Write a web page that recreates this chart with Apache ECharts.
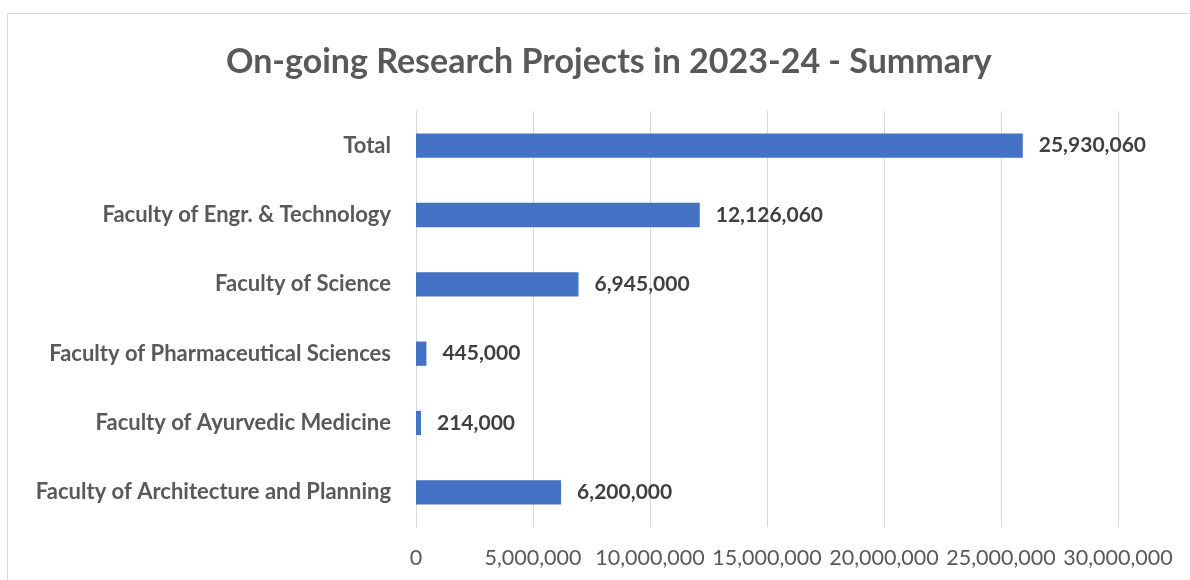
<!DOCTYPE html>
<html>
<head>
<meta charset="utf-8">
<script src="https://cdn.jsdelivr.net/npm/echarts@6/dist/echarts.min.js"></script>
<style>
    html, body { margin: 0; padding: 0; background: #fff; }
    #chart { width: 1190px; height: 580px; }
</style>
</head>
<body>
<div id="chart"></div>
<script>
    // categories top to bottom
    const faculties = [
        'Total',
        'Faculty of Engr. & Technology',
        'Faculty of Science',
        'Faculty of Pharmaceutical Sciences',
        'Faculty of Ayurvedic Medicine',
        'Faculty of Architecture and Planning'
    ]
    const amounts = [25930060, 12126060, 6945000, 445000, 214000, 6200000]
    const axisMin = 0
    const axisMax = 30000000
    const axisStep = 5000000

    const fontName = 'Lato, "Open Sans", sans-serif'
    const fmt = v => Number(v).toLocaleString('en-US')

    const chart = echarts.init(document.getElementById('chart'))
    chart.setOption({
        animation: false,
        title: {
            text: 'On-going Research Projects in 2023-24 - Summary',
            left: 221,
            top: 40,
            textStyle: { fontFamily: fontName, fontSize: 34, fontWeight: 'bold', color: '#595959' }
        },
        graphic: [{
            type: 'rect',
            shape: { x: 7.5, y: 13.5, width: 1200, height: 600 },
            style: { fill: 'none', stroke: '#d9d9d9', lineWidth: 1 },
            silent: true
        }],
        grid: { left: 416, right: 72, top: 111, bottom: 53 },
        xAxis: {
            type: 'value',
            min: axisMin,
            max: axisMax,
            interval: axisStep,
            axisLine: { show: false },
            axisTick: { show: false },
            splitLine: { lineStyle: { color: '#d9d9d9', width: 1 } },
            axisLabel: {
                formatter: fmt,
                margin: 20,
                fontFamily: fontName,
                fontSize: 21.5,
                color: '#595959'
            }
        },
        yAxis: {
            type: 'category',
            inverse: true,
            data: faculties,
            axisLine: { show: true, lineStyle: { color: '#d9d9d9' } },
            axisTick: { show: false },
            axisLabel: {
                margin: 25,
                fontFamily: fontName,
                fontSize: 22,
                fontWeight: 'bold',
                color: '#595959'
            }
        },
        series: [{
            type: 'bar',
            data: amounts,
            barCategoryGap: '65%',
            itemStyle: { color: '#4472c4' },
            label: {
                show: true,
                position: 'right',
                distance: 16,
                formatter: p => fmt(p.value),
                fontFamily: fontName,
                fontSize: 21,
                fontWeight: 'bold',
                color: '#404040'
            }
        }]
    })
</script>
</body>
</html>
